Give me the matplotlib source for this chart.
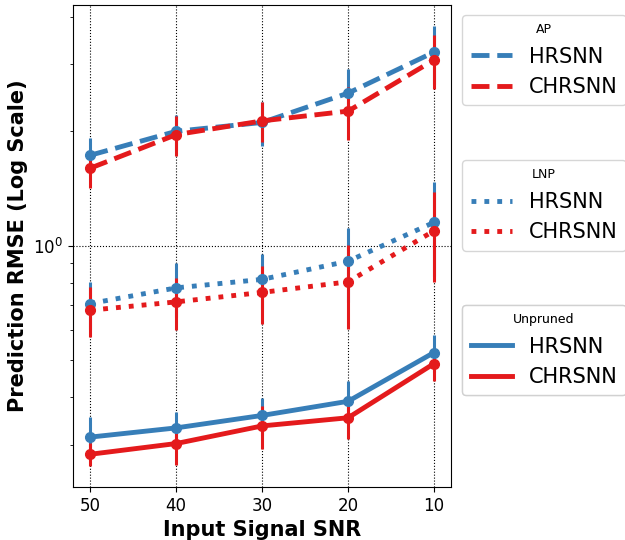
import numpy as np
import matplotlib
matplotlib.use("Agg")
from matplotlib import pyplot as plt
from matplotlib.ticker import NullFormatter
from matplotlib.lines import Line2D

snr = ["50", "40", "30", "20", "10"]

ap_hrsnn = [1.73, 2.00, 2.11, 2.52, 3.23]
ap_hrsnn_err = [0.19, 0.21, 0.28, 0.39, 0.56]
ap_chrsnn = [1.60, 1.96, 2.13, 2.26, 3.08]
ap_chrsnn_err = [0.18, 0.24, 0.26, 0.36, 0.50]

lnp_hrsnn = [0.705, 0.775, 0.816, 0.911, 1.152]
lnp_hrsnn_err = [0.10, 0.124, 0.133, 0.20, 0.32]
lnp_chrsnn = [0.677, 0.712, 0.754, 0.804, 1.095]
lnp_chrsnn_err = [0.10, 0.11, 0.13, 0.20, 0.29]

un_hrsnn = [0.314, 0.332, 0.358, 0.390, 0.524]
un_hrsnn_err = [0.04, 0.034, 0.04, 0.05, 0.058]
un_chrsnn = [0.283, 0.302, 0.336, 0.353, 0.490]
un_chrsnn_err = [0.02, 0.037, 0.043, 0.043, 0.049]

blue = "#377eb8"
red = "#e41a1c"

fig = plt.figure(figsize=(6.25, 5.4), dpi=100)
ax = fig.add_axes([0.117, 0.098, 0.605, 0.893])
x = np.arange(len(snr))

groups = [
    ("AP", "--", ap_hrsnn, ap_hrsnn_err, ap_chrsnn, ap_chrsnn_err),
    ("LNP", ":", lnp_hrsnn, lnp_hrsnn_err, lnp_chrsnn, lnp_chrsnn_err),
    ("Unpruned", "-", un_hrsnn, un_hrsnn_err, un_chrsnn, un_chrsnn_err),
]

for title, ls, hv, he, cv, ce in groups:
    ax.errorbar(x, hv, yerr=he, color=blue, ls=ls, lw=3.5, marker="o", ms=7,
                elinewidth=2.2, ecolor=blue, capsize=0)
    ax.errorbar(x, cv, yerr=ce, color=red, ls=ls, lw=3.5, marker="o", ms=7,
                elinewidth=2.2, ecolor=red, capsize=0)

ax.set_yscale("log")
ax.set_ylim(0.232, 4.3)
ax.set_xlim(-0.2, 4.2)
ax.set_xticks(x)
ax.set_xticklabels(snr, fontsize=12)
ax.yaxis.set_minor_formatter(NullFormatter())
ax.tick_params(axis="y", labelsize=12)
ax.grid(True, which="major", ls=":", color="black", lw=0.8)
ax.set_xlabel("Input Signal SNR", fontsize=15, fontweight="bold")
ax.set_ylabel("Prediction RMSE (Log Scale)", fontsize=15, fontweight="bold")

# three separate legends stacked on the right
ypos = [0.979, 0.678, 0.378]
for (title, ls, *_), yp in zip(groups, ypos):
    hs = [Line2D([], [], color=blue, ls=ls, lw=3.5),
          Line2D([], [], color=red, ls=ls, lw=3.5)]
    leg = ax.legend(hs, ["HRSNN", "CHRSNN"], title=title, fontsize=15,
                    title_fontsize=9, loc="upper left", bbox_to_anchor=(1.029, yp),
                    handlelength=2.0, borderaxespad=0)
    ax.add_artist(leg)

fig.savefig("out.png", dpi=100)
